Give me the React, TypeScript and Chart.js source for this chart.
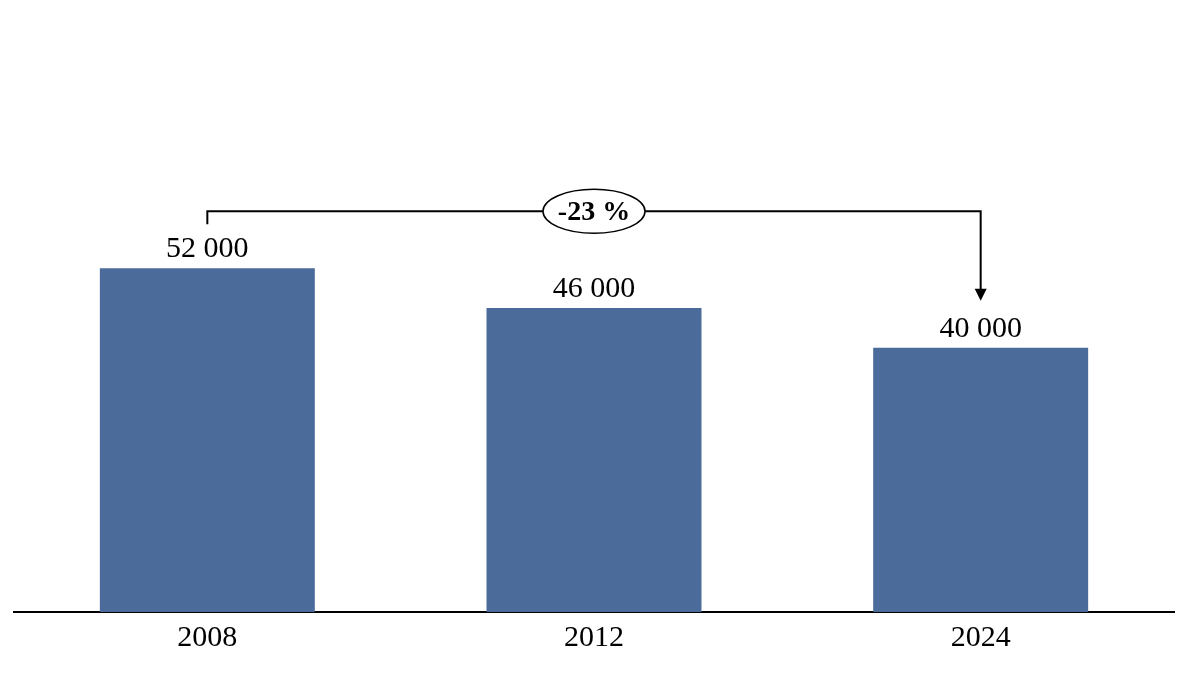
import React, { useEffect, useRef } from "react";
import { Chart, registerables } from "chart.js";

Chart.register(...registerables);

const categories = ["2008", "2012", "2024"];
const values = [52000, 46000, 40000];
const changeLabel = "-23 %";

const BAR_COLOR = "#4B6C9A";
const FONT = "'Liberation Serif', 'Times New Roman', serif";

const fmt = (v: number) => String(v).replace(/\B(?=(\d{3})+(?!\d))/g, " ");

const annotationPlugin = {
  id: "annot",
  afterDatasetsDraw(chart: any) {
    const ctx = chart.ctx;
    const meta = chart.getDatasetMeta(0);
    ctx.save();
    // value labels
    ctx.fillStyle = "#000";
    ctx.font = `30px ${FONT}`;
    ctx.textAlign = "center";
    ctx.textBaseline = "alphabetic";
    meta.data.forEach((bar: any, i: number) => {
      ctx.fillText(fmt(values[i]), bar.x, bar.y - 11);
    });
    // bracket
    const b0 = meta.data[0];
    const b2 = meta.data[meta.data.length - 1];
    const yTop = b0.y - 57;
    const yStart = b0.y - 44;
    const yTip = b2.y - 47;
    ctx.strokeStyle = "#000";
    ctx.lineWidth = 2;
    ctx.beginPath();
    ctx.moveTo(b0.x, yStart);
    ctx.lineTo(b0.x, yTop);
    ctx.lineTo(b2.x, yTop);
    ctx.lineTo(b2.x, yTip - 11);
    ctx.stroke();
    ctx.fillStyle = "#000";
    ctx.beginPath();
    ctx.moveTo(b2.x - 6, yTip - 12);
    ctx.lineTo(b2.x + 6, yTip - 12);
    ctx.lineTo(b2.x, yTip);
    ctx.closePath();
    ctx.fill();
    // ellipse
    const cx = (b0.x + b2.x) / 2;
    ctx.beginPath();
    ctx.ellipse(cx, yTop, 51, 22, 0, 0, Math.PI * 2);
    ctx.fillStyle = "#fff";
    ctx.fill();
    ctx.lineWidth = 1.5;
    ctx.stroke();
    ctx.fillStyle = "#000";
    ctx.font = `bold 28px ${FONT}`;
    ctx.textBaseline = "middle";
    ctx.fillText(changeLabel, cx, yTop + 1);
    ctx.restore();
  },
};

export default function App() {
  const ref = useRef<HTMLCanvasElement>(null);
  useEffect(() => {
    const chart = new Chart(ref.current!, {
      type: "bar",
      data: {
        labels: categories,
        datasets: [
          {
            data: values,
            backgroundColor: BAR_COLOR,
            barPercentage: 0.556,
            categoryPercentage: 1,
          },
        ],
      },
      options: {
        animation: false,
        responsive: false,
        maintainAspectRatio: false,
        layout: { padding: { left: 14, right: 14, top: 4, bottom: 10 } },
        plugins: { legend: { display: false }, tooltip: { enabled: false } },
        scales: {
          x: {
            grid: { display: false, drawTicks: false },
            border: { display: true, color: "#000", width: 2 },
            ticks: { color: "#000", font: { family: FONT, size: 30 }, padding: 8 },
          },
          y: { display: false, min: 0, max: 92000 },
        },
      },
      plugins: [annotationPlugin],
    });
    return () => chart.destroy();
  }, []);
  return (
    <div style={{ position: "absolute", left: 0, top: 0, width: 1188, height: 674, background: "#fff" }}>
      <canvas ref={ref} width={1188} height={674} style={{ display: "block" }} />
    </div>
  );
}
